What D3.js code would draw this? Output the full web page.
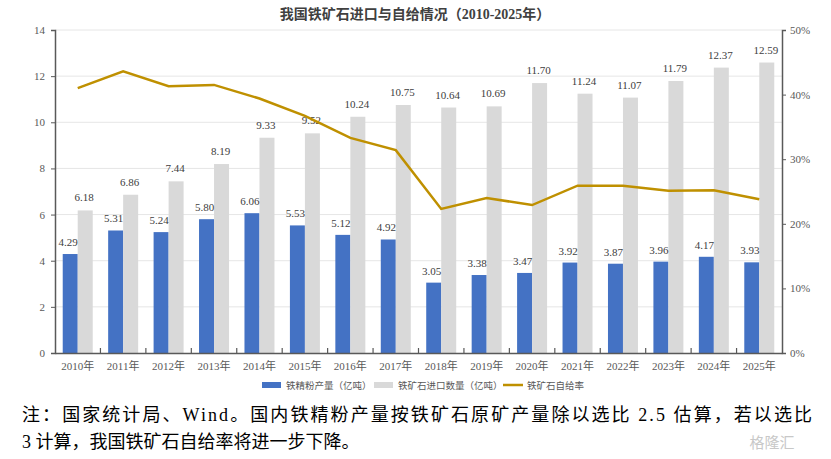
<!DOCTYPE html>
<html>
<head>
<meta charset="utf-8">
<script src="https://cdn.jsdelivr.net/npm/d3@7"></script>
<style>
  body { margin: 0; background: #fff; }
  svg { display: block; }
  .tick text { font-family: "Liberation Serif", serif; fill: #595959; }
</style>
</head>
<body>
<div class="c_chart"></div>
<script>
// data
const years = ["2010年","2011年","2012年","2013年","2014年","2015年","2016年","2017年",
  "2018年","2019年","2020年","2021年","2022年","2023年","2024年","2025年"];
const concentrate = [4.29,5.31,5.24,5.80,6.06,5.53,5.12,4.92,3.05,3.38,3.47,3.92,3.87,3.96,4.17,3.93];
const imports = [6.18,6.86,7.44,8.19,9.33,9.52,10.24,10.75,10.64,10.69,11.70,11.24,11.07,11.79,12.37,12.59];
const selfRate = [41.0,43.6,41.3,41.5,39.4,36.7,33.3,31.4,22.3,24.0,22.9,25.9,25.9,25.1,25.2,23.8];
const leftTicks = [0,2,4,6,8,10,12,14];
const rightTicks = [0,10,20,30,40,50];

const width = 831, height = 459;
const margin = {top:30, right:49, bottom:106, left:55};

const svg = d3.select(".c_chart").append("svg")
  .attr("width", width)
  .attr("height", height);

const x = d3.scaleBand().domain(years).range([margin.left, width - margin.right]);
const yL = d3.scaleLinear().domain([0,14]).range([height - margin.bottom, margin.top]);
const yR = d3.scaleLinear().domain([0,50]).range([height - margin.bottom, margin.top]);
const bw = x.bandwidth() * 0.33;

// title
svg.append("text")
  .attr("x", 415).attr("y", 19)
  .attr("text-anchor", "middle")
  .style("font-family", "'Liberation Serif', 'Noto Sans CJK SC', serif")
  .style("font-weight", "bold")
  .style("font-size", "14px")
  .style("fill", "#404040")
  .text("我国铁矿石进口与自给情况（2010-2025年）");

// grid
svg.append("g").selectAll("line")
  .data(leftTicks.filter(d => d > 0))
  .enter().append("line")
  .attr("x1", margin.left).attr("x2", width - margin.right)
  .attr("y1", d => yL(d)).attr("y2", d => yL(d))
  .attr("stroke", "#e6e6e6").attr("stroke-width", 1);

// bars
svg.append("g").selectAll("rect")
  .data(concentrate)
  .enter().append("rect")
  .attr("x", (d,i) => x(years[i]) + x.bandwidth()/2 - bw)
  .attr("y", d => yL(d))
  .attr("width", bw)
  .attr("height", d => yL(0) - yL(d))
  .attr("fill", "#4472C4");

svg.append("g").selectAll("rect")
  .data(imports)
  .enter().append("rect")
  .attr("x", (d,i) => x(years[i]) + x.bandwidth()/2)
  .attr("y", d => yL(d))
  .attr("width", bw)
  .attr("height", d => yL(0) - yL(d))
  .attr("fill", "#D9D9D9");

// bar labels
const lblStyle = s => s
  .style("font-family", "'Liberation Serif', serif")
  .style("font-size", "11px")
  .style("fill", "#404040")
  .attr("text-anchor", "middle");

svg.append("g").selectAll("text")
  .data(concentrate)
  .enter().append("text")
  .attr("x", (d,i) => x(years[i]) + x.bandwidth()/2 - bw/2 - 2)
  .attr("y", d => yL(d) - 8)
  .call(lblStyle)
  .text(d => d.toFixed(2));

svg.append("g").selectAll("text")
  .data(imports)
  .enter().append("text")
  .attr("x", (d,i) => x(years[i]) + x.bandwidth()/2 + bw/2 - 1)
  .attr("y", d => yL(d) - 9)
  .call(lblStyle)
  .text(d => d.toFixed(2));

// line
const line = d3.line()
  .x((d,i) => x(years[i]) + x.bandwidth()/2)
  .y(d => yR(d));

svg.append("path")
  .datum(selfRate)
  .attr("d", line)
  .attr("fill", "none")
  .attr("stroke", "#BF9000")
  .attr("stroke-width", 2.5);

// axes
const axL = svg.append("g")
  .attr("transform", `translate(${margin.left},0)`)
  .call(d3.axisLeft(yL).tickValues(leftTicks).tickSize(4).tickPadding(6));
axL.selectAll("text").style("font-size", "11px");

const axR = svg.append("g")
  .attr("transform", `translate(${width - margin.right},0)`)
  .call(d3.axisRight(yR).tickValues(rightTicks).tickSize(4).tickPadding(4).tickFormat(d => d + "%"));
axR.selectAll("text").style("font-size", "11px");

[axL, axR].forEach(a => {
  a.select(".domain").attr("stroke", "#595959").attr("stroke-width", 1.5);
  a.selectAll(".tick line").attr("stroke", "#595959");
});

const axB = svg.append("g")
  .attr("transform", `translate(0,${yL(0)})`)
  .call(d3.axisBottom(x).tickSize(0).tickPadding(9));
axB.select(".domain").attr("stroke", "#595959").attr("stroke-width", 1.5);
axB.selectAll("text").style("font-size", "11px").style("font-family", "'Liberation Serif', 'Noto Sans CJK SC', serif");

// category separators
svg.append("g").selectAll("line")
  .data(years.slice(1))
  .enter().append("line")
  .attr("x1", d => x(d)).attr("x2", d => x(d))
  .attr("y1", yL(0)).attr("y2", yL(0) - 5)
  .attr("stroke", "#595959").attr("stroke-width", 1.2);

// legend
const legend = svg.append("g").attr("transform", "translate(0,385)");
const legItems = [
  {label:"铁精粉产量（亿吨）", x:262, type:"rect", color:"#4472C4"},
  {label:"铁矿石进口数量（亿吨）", x:374, type:"rect", color:"#D9D9D9"},
  {label:"铁矿石自给率", x:503, type:"line", color:"#BF9000"}
];
legItems.forEach(it => {
  if (it.type === "rect") {
    legend.append("rect").attr("x", it.x).attr("y", -3).attr("width", 19).attr("height", 6).attr("fill", it.color);
  } else {
    legend.append("line").attr("x1", it.x).attr("x2", it.x + 20).attr("y1", 0).attr("y2", 0)
      .attr("stroke", it.color).attr("stroke-width", 2.5);
  }
  legend.append("text")
    .attr("x", it.x + 24).attr("y", 3.5)
    .style("font-family", "'Noto Sans CJK SC', sans-serif")
    .style("font-size", "9.5px")
    .style("fill", "#595959")
    .text(it.label);
});

// note
const note = svg.append("g")
  .style("font-family", "'Liberation Serif', 'Noto Sans CJK SC', serif")
  .style("font-size", "18px")
  .style("fill", "#000");
note.append("text").attr("x", 22).attr("y", 421)
  .attr("textLength", 790).attr("lengthAdjust", "spacing")
  .text("注：国家统计局、Wind。国内铁精粉产量按铁矿石原矿产量除以选比 2.5 估算，若以选比");
note.append("text").attr("x", 22).attr("y", 448)
  .text("3 计算，我国铁矿石自给率将进一步下降。");

// watermark
svg.append("text").attr("x", 772).attr("y", 448)
  .attr("text-anchor", "middle")
  .style("font-family", "'Noto Sans CJK SC', sans-serif")
  .style("font-size", "15px")
  .style("fill", "#c8c8c8")
  .text("格隆汇");
</script>
</body>
</html>
